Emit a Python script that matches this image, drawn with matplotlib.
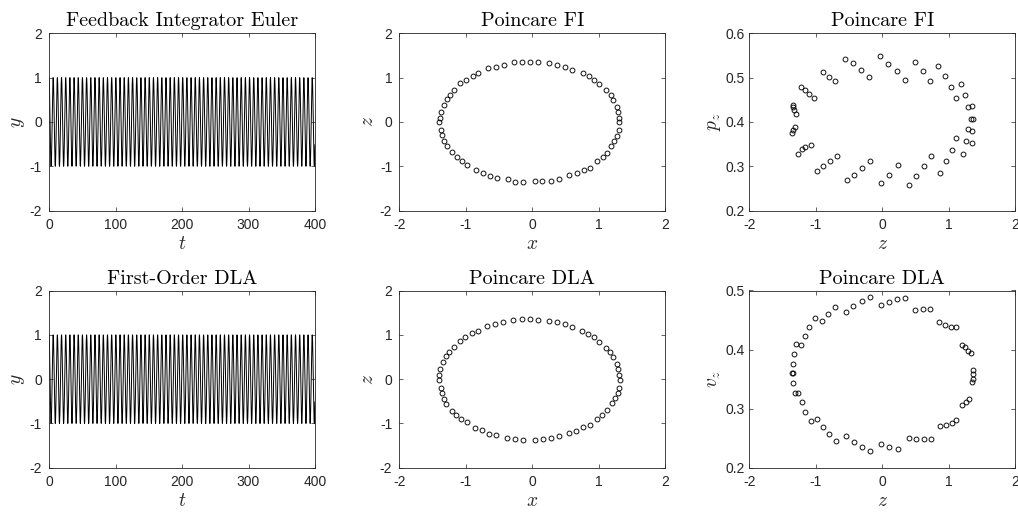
import matplotlib
matplotlib.use('Agg')
import matplotlib.pyplot as plt
import numpy as np
from matplotlib.ticker import FuncFormatter

plt.rcParams['mathtext.fontset'] = 'cm'
plt.rcParams['font.family'] = ['Liberation Sans', 'DejaVu Sans']

# ---------------- data ----------------
# time-series panels: steady oscillation, amplitude ~1, period ~2*pi, t in [0, 400]
t_range = [0.0, 400.0]
osc_amplitude_fi = 1.0
osc_amplitude_dla = 1.0
osc_period = 6.283
osc_samples = 4001

# Poincare FI (x, z)
fi_x = [1.307, 1.307, 1.287, 1.277, 1.212, 1.177, 1.112, 1.002, 0.932, 0.851, 0.760, 0.600,
        0.494, 0.374, 0.258, 0.093, -0.028, -0.153, -0.274, -0.429, -0.550, -0.665, -0.811,
        -0.896, -0.996, -1.082, -1.172, -1.237, -1.287, -1.332, -1.368, -1.388, -1.398,
        -1.373, -1.358, -1.327, -1.282, -1.212, -1.137, -1.061, -0.981, -0.851, -0.745,
        -0.640, -0.535, -0.364, -0.253, -0.133, 0.038, 0.153, 0.284, 0.409, 0.545, 0.665,
        0.770, 0.861, 0.976, 1.057, 1.122, 1.187, 1.227, 1.272, 1.302]
fi_z = [0.000, 0.098, 0.226, 0.340, 0.498, 0.619, 0.717, 0.853, 0.951, 1.034, 1.109, 1.177,
        1.238, 1.283, 1.328, 1.343, 1.358, 1.358, 1.343, 1.283, 1.245, 1.208, 1.109,
        1.034, 0.951, 0.875, 0.717, 0.619, 0.513, 0.392, 0.226, 0.098, -0.008,
        -0.174, -0.302, -0.423, -0.543, -0.679, -0.785, -0.875, -0.966, -1.087, -1.147,
        -1.223, -1.268, -1.298, -1.351, -1.366, -1.343, -1.343, -1.321, -1.283, -1.200, -1.162,
        -1.087, -1.034, -0.891, -0.792, -0.702, -0.543, -0.423, -0.325, -0.174]

# Poincare FI (z, p_z)
fi_pz_z = [-0.028, 0.093, 0.218, 0.344, 0.494, 0.610, 0.715, 0.841, 0.936, 1.026, 1.187, 1.107,
           1.247, 1.287, 1.348, 1.338, 1.358, 1.292, 1.353, 1.107, 1.252, 1.343, 1.212, 1.047,
           0.730, 0.961, 0.625, 0.871, 0.234, 0.505, 0.103, 0.404, -0.018, -0.183, -0.304,
           -0.424, -0.535, -0.685, -0.786, -0.886, -0.981, -1.077, -1.157, -1.212, -1.272,
           -1.308, -1.338, -1.358, -1.298, -1.328, -1.348, -1.343, -1.022, -1.102, -1.162,
           -1.217, -0.886, -0.796, -0.705, -0.555, -0.434, -0.314, -0.198]
fi_pz = [0.549, 0.531, 0.514, 0.495, 0.535, 0.514, 0.492, 0.527, 0.504, 0.478, 0.486, 0.455,
         0.460, 0.433, 0.435, 0.407, 0.407, 0.383, 0.380, 0.363, 0.356, 0.353, 0.328, 0.336,
         0.324, 0.311, 0.301, 0.285, 0.302, 0.277, 0.281, 0.258, 0.263, 0.313, 0.297,
         0.281, 0.269, 0.324, 0.311, 0.301, 0.290, 0.349, 0.343, 0.338, 0.328,
         0.389, 0.381, 0.374, 0.418, 0.427, 0.434, 0.438, 0.455, 0.462, 0.471,
         0.478, 0.513, 0.502, 0.492, 0.543, 0.532, 0.518, 0.502]

# Poincare DLA (x, z)
dla_x = [1.307, 1.312, 1.307, 1.282, 1.237, 1.192, 1.127, 1.047, 0.966, 0.871, 0.760, 0.660,
         0.550, 0.399, 0.279, 0.158, 0.043, -0.143, -0.259, -0.374, -0.544, -0.650, -0.755,
         -0.856, -0.986, -1.067, -1.147, -1.212, -1.292, -1.328, -1.363, -1.378, -1.408,
         -1.398, -1.383, -1.343, -1.297, -1.252, -1.182, -1.092, -1.006, -0.911, -0.816,
         -0.675, -0.560, -0.439, -0.284, -0.158, -0.033, 0.083, 0.248, 0.369, 0.489, 0.595,
         0.750, 0.841, 0.926, 1.007, 1.112, 1.167, 1.217, 1.267, 1.292]
dla_z = [0.086, -0.026, -0.191, -0.311, -0.432, -0.529, -0.702, -0.799, -0.897, -1.032, -1.084,
         -1.167, -1.220, -1.287, -1.325, -1.340, -1.362, -1.362, -1.340, -1.325, -1.265, -1.227,
         -1.152, -1.092, -0.972, -0.897, -0.807, -0.709, -0.552, -0.439, -0.304, -0.191, -0.019,
         0.094, 0.221, 0.394, 0.514, 0.611, 0.724, 0.860, 0.942, 1.032, 1.092,
         1.197, 1.242, 1.287, 1.325, 1.355, 1.355, 1.332, 1.310, 1.287, 1.234, 1.182,
         1.092, 1.025, 0.942, 0.844, 0.709, 0.611, 0.499, 0.334, 0.221]

# Poincare DLA (z, v_z)
dla_vz_z = [-0.188, -0.309, -0.434, -0.550, -0.705, -0.811, -0.901, -1.017, -1.097, -1.162,
            -1.293, -1.222, -1.323, -1.343, -1.358, -1.343, -1.343, -1.313, -1.272, -1.212,
            -1.162, -1.077, -0.981, -0.886, -0.796, -0.695, -0.540, -0.419, -0.304, -0.183,
            -0.018, 0.108, 0.233, 0.404, 0.509, 0.625, 0.730, 0.871, 0.961, 1.047, 1.112,
            1.197, 1.252, 1.303, 1.348, 1.358, 1.358, 1.358, 1.328, 1.288, 1.247, 1.197,
            1.107, 1.026, 0.946, 0.856, 0.711, 0.610, 0.494, 0.339, 0.218, 0.098, -0.023]
dla_vz = [0.489, 0.482, 0.473, 0.464, 0.472, 0.460, 0.448, 0.453, 0.438, 0.423,
          0.410, 0.408, 0.393, 0.376, 0.360, 0.360, 0.343, 0.326, 0.326, 0.311,
          0.295, 0.280, 0.283, 0.269, 0.258, 0.246, 0.253, 0.244, 0.236, 0.228,
          0.241, 0.236, 0.232, 0.250, 0.249, 0.248, 0.248, 0.271, 0.273, 0.276, 0.281,
          0.306, 0.312, 0.317, 0.346, 0.351, 0.358, 0.365, 0.395, 0.398, 0.404, 0.408,
          0.438, 0.439, 0.442, 0.446, 0.469, 0.469, 0.467, 0.488, 0.485, 0.481, 0.476]

titles = ['Feedback Integrator Euler', 'Poincare FI', 'Poincare FI',
          'First-Order DLA', 'Poincare DLA', 'Poincare DLA']
xlabels = [r'$t$', r'$x$', r'$z$', r'$t$', r'$x$', r'$z$']
ylabels = [r'$y$', r'$z$', r'$p_z$', r'$y$', r'$z$', r'$v_z$']
ticks_t = [0, 100, 200, 300, 400]
ticks_2 = [-2, -1, 0, 1, 2]
ticks_pz = [0.2, 0.3, 0.4, 0.5, 0.6]
ticks_vz = [0.2, 0.3, 0.4, 0.5]

# ---------------- figure ----------------
W, H = 1018, 513
fig = plt.figure(figsize=(W / 100, H / 100), dpi=100)
fig.patch.set_facecolor('white')

lefts = [49, 399.3, 749.3]
aw = 266
tops = [33.3, 290.5]
ah = 177.3
axes = []
for r in range(2):
    for c in range(3):
        ax = fig.add_axes([lefts[c] / W, 1 - (tops[r] + ah) / H, aw / W, ah / H])
        axes.append(ax)

gray = '#262626'
for i, ax in enumerate(axes):
    ax.tick_params(direction='in', top=True, right=True, length=3, width=0.5,
                   labelsize=10, colors=gray)
    ax.tick_params(axis='x', pad=5)
    ax.tick_params(axis='y', pad=3 if i in (2, 5) else 5)
    for s in ax.spines.values():
        s.set_linewidth(0.6)
        s.set_color(gray)
    ax.set_title(titles[i], fontfamily='cmr10', fontsize=14.5, pad=5, color='black')
    ax.set_xlabel(xlabels[i], fontsize=14, labelpad=3, color=gray)
    ax.set_ylabel(ylabels[i], fontsize=14, labelpad=2, color=gray)

t = np.linspace(t_range[0], t_range[1], osc_samples)
for ax, amp in [(axes[0], osc_amplitude_fi), (axes[3], osc_amplitude_dla)]:
    ax.plot(t, amp * np.cos(2 * np.pi * t / osc_period), color='black', lw=0.7)
    ax.set_xlim(0, 400)
    ax.set_ylim(-2, 2)
    ax.set_xticks(ticks_t)
    ax.set_yticks(ticks_2)

mk = dict(linestyle='none', marker='o', markersize=3.5, markerfacecolor='none',
          markeredgecolor='black', markeredgewidth=0.65)

axes[1].plot(fi_x, fi_z, **mk)
axes[4].plot(dla_x, dla_z, **mk)
for ax in (axes[1], axes[4]):
    ax.set_xlim(-2, 2)
    ax.set_ylim(-2, 2)
    ax.set_xticks(ticks_2)
    ax.set_yticks(ticks_2)

axes[2].plot(fi_pz_z, fi_pz, **mk)
axes[2].set_xlim(-2, 2)
axes[2].set_ylim(0.2, 0.6)
axes[2].set_xticks(ticks_2)
axes[2].set_yticks(ticks_pz)

axes[5].plot(dla_vz_z, dla_vz, **mk)
axes[5].set_xlim(-2, 2)
axes[5].set_ylim(0.2, 0.5)
axes[5].set_xticks(ticks_2)
axes[5].set_yticks(ticks_vz)

fmt = FuncFormatter(lambda v, p: ('%g' % v).replace('\u2212', '-'))
for ax in axes:
    ax.xaxis.set_major_formatter(fmt)
    ax.yaxis.set_major_formatter(fmt)

fig.savefig('out.png', dpi=100, facecolor='white')
